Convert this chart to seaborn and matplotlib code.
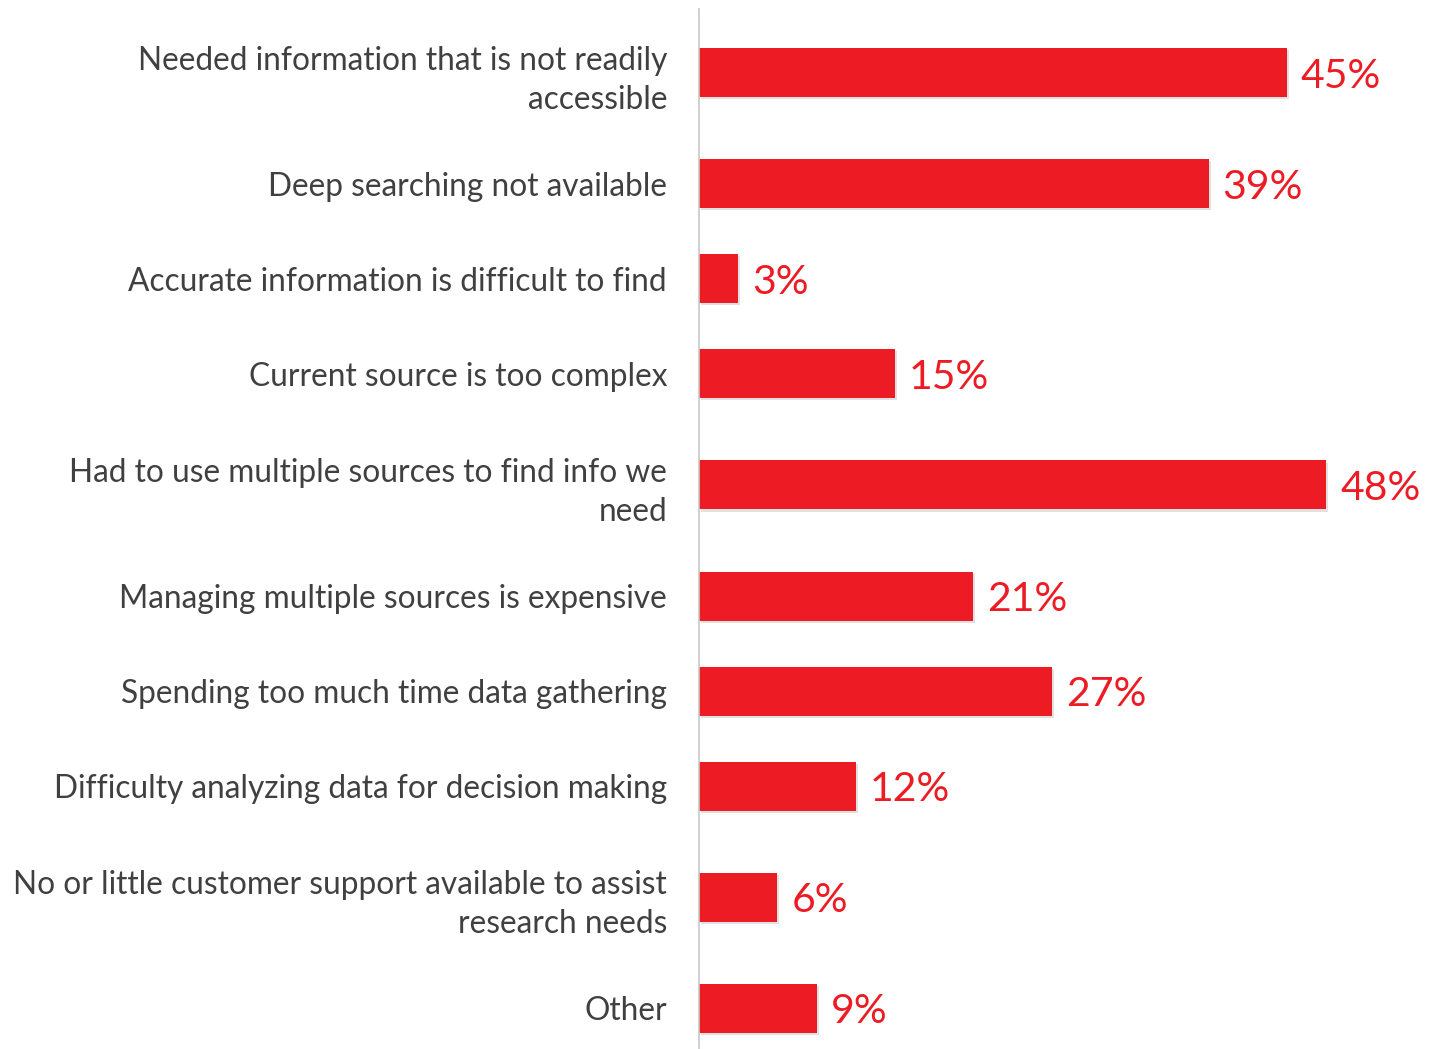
import numpy as np
import pandas as pd
import seaborn as sns
import matplotlib.pyplot as plt
import matplotlib.patheffects as pe

CATEGORIES = [
    "Needed information that is not readily\naccessible",
    "Deep searching not available",
    "Accurate information is difficult to find",
    "Current source is too complex",
    "Had to use multiple sources to find info we\nneed",
    "Managing multiple sources is expensive",
    "Spending too much time data gathering",
    "Difficulty analyzing data for decision making",
    "No or little customer support available to assist\nresearch needs",
    "Other",
]
VALUES = [45, 39, 3, 15, 48, 21, 27, 12, 6, 9]

RED = "#ED1C24"
TEXT = "#404040"
LINE_EXTRA = 0.34  # extra slot height for each wrapped line

sns.set_theme(style="white")
plt.rcParams["font.family"] = ["Lato", "DejaVu Sans"]

# slots grow with the number of label lines
slots = np.array([1 + LINE_EXTRA * (c.count("\n")) for c in CATEGORIES])
pos = np.cumsum(slots) - slots / 2

df = pd.DataFrame({"label": CATEGORIES, "value": VALUES, "pos": pos})

fig = plt.figure(figsize=(14.35, 10.49), dpi=100)
ax = fig.add_axes([699 / 1435, 0.0, 1 - 699 / 1435, 1 - 9 / 1049])

sns.barplot(data=df, x="value", y="pos", orient="h", native_scale=True,
            color=RED, saturation=1, width=0.516, ax=ax, errorbar=None)

for p in ax.patches:
    p.set_linewidth(0)
    p.set_edgecolor("none")
    p.set_path_effects([pe.SimplePatchShadow(offset=(1.5, -1.5), shadow_rgbFace="#888888", alpha=0.25), pe.Normal()])

ax.set_xlim(0, (1435 - 699) / (588 / 45))
ax.set_ylim(1040 / 95, 0)
ax.set_yticks(pos)
ax.set_yticklabels(CATEGORIES, fontsize=22.8, color=TEXT, linespacing=1.38)
ax.tick_params(axis="y", length=0, pad=23)
ax.set_xticks([])
ax.set_xlabel("")
ax.set_ylabel("")

for s in ["top", "right", "bottom"]:
    ax.spines[s].set_visible(False)
ax.spines["left"].set_color("#C8C8C8")
ax.spines["left"].set_linewidth(1.2)

texts = ax.bar_label(ax.containers[0], labels=[f"{v}%" for v in VALUES],
                     padding=10, fontsize=29.5, color=RED)
for t in texts:
    t.set_va("center_baseline")

fig.savefig("out.png", dpi=100)
